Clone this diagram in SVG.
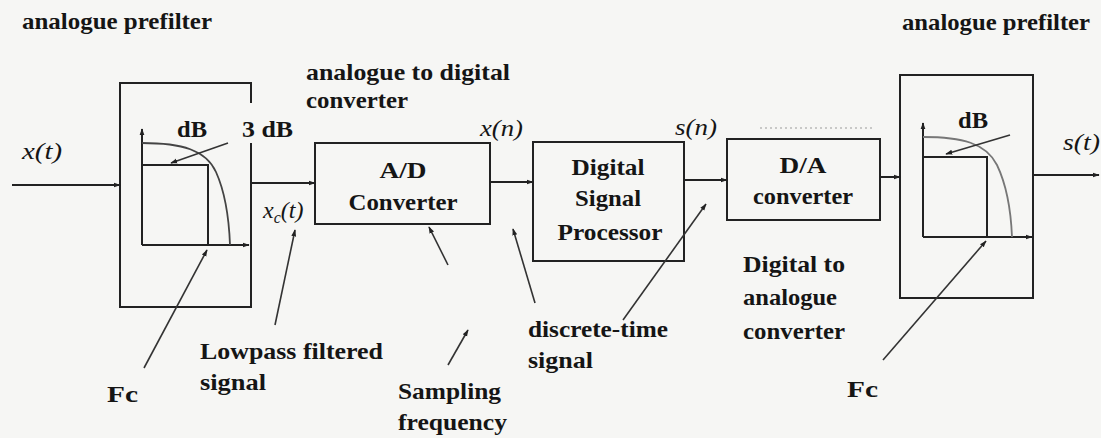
<svg xmlns="http://www.w3.org/2000/svg" width="1101" height="438" viewBox="0 0 1101 438">
  <defs>
    <marker id="ah" viewBox="0 0 10 10" refX="9" refY="5" markerWidth="7" markerHeight="7" orient="auto" markerUnits="userSpaceOnUse">
      <path d="M0,1.5 L10,5 L0,8.5 Z" fill="#222"/>
    </marker>
    <style>
      .ln { stroke: #222; stroke-width: 2; fill: none; }
      .cv { stroke: #444; stroke-width: 1.8; fill: none; }
      .cv2 { stroke: #777; stroke-width: 1.8; fill: none; }
      .arr { stroke: #222; stroke-width: 2; fill: none; marker-end: url(#ah); }
      .ptr { stroke: #333; stroke-width: 1.6; fill: none; marker-end: url(#ah); }
      .t { font-family: "Liberation Serif", serif; font-weight: bold; font-size: 24px; fill: #151515; }
      .it { font-family: "Liberation Serif", serif; font-style: italic; font-size: 24px; fill: #151515; }
      .c { text-anchor: middle; }
    </style>
  </defs>
  <rect width="1101" height="438" fill="#f6f6f4"/>

  <!-- left analogue prefilter -->
  <g id="prefilter-left">
    <path class="ln" d="M251,103 V83 H120 V307 H251 V143"/>
    <path class="arr" d="M142,245 V129"/>
    <path class="arr" d="M142,245 H249"/>
    <path class="ln" d="M142,165 H208 V245"/>
    <path class="cv" d="M142,143 C182,143 206,150 216,172 C225,192 229,218 230,245"/>
    <path class="ptr" d="M228,143 L171,163"/>
    <text class="t" x="177" y="137" textLength="30" lengthAdjust="spacingAndGlyphs">dB</text>
    <text class="t" x="242" y="137" textLength="51" lengthAdjust="spacingAndGlyphs">3 dB</text>
  </g>

  <!-- A/D converter -->
  <g id="ad-converter">
    <rect class="ln" x="315" y="143" width="175" height="81"/>
    <text class="t c" x="403" y="178" textLength="47" lengthAdjust="spacingAndGlyphs">A/D</text>
    <text class="t c" x="403" y="210" textLength="109" lengthAdjust="spacingAndGlyphs">Converter</text>
  </g>

  <!-- Digital Signal Processor -->
  <g id="dsp">
    <rect class="ln" x="533" y="142" width="151" height="119"/>
    <text class="t c" x="608" y="175" textLength="73" lengthAdjust="spacingAndGlyphs">Digital</text>
    <text class="t c" x="608" y="206" textLength="66" lengthAdjust="spacingAndGlyphs">Signal</text>
    <text class="t c" x="610" y="240" textLength="105" lengthAdjust="spacingAndGlyphs">Processor</text>
  </g>

  <!-- D/A converter -->
  <g id="da-converter">
    <rect class="ln" x="727" y="139" width="153" height="81"/>
    <text class="t c" x="803" y="173" textLength="47" lengthAdjust="spacingAndGlyphs">D/A</text>
    <text class="t c" x="803" y="204" textLength="100" lengthAdjust="spacingAndGlyphs">converter</text>
  </g>

  <!-- right analogue prefilter -->
  <g id="prefilter-right">
    <rect class="ln" x="900" y="75" width="133" height="223"/>
    <path class="arr" d="M923,237 V123"/>
    <path class="arr" d="M923,237 H1032"/>
    <path class="ln" d="M923,157 H987 V237"/>
    <path class="cv2" d="M923,137 C962,137 986,143 997,165 C1007,186 1011,212 1012,237"/>
    <path class="ptr" d="M1010,135 L946,154"/>
    <text class="t" x="958" y="128" textLength="30" lengthAdjust="spacingAndGlyphs">dB</text>
  </g>

  <!-- connectors -->
  <g id="connectors">
    <path class="arr" d="M12,185 H120"/>
    <path class="arr" d="M251,183 H315"/>
    <path class="arr" d="M490,182 H533"/>
    <path class="arr" d="M684,180 H727"/>
    <path class="arr" d="M880,177 H900"/>
    <path class="arr" d="M1033,175 H1099"/>
    <path class="ptr" d="M144,368 L207,250"/>
    <path class="ptr" d="M275,325 L295,230"/>
    <path class="ptr" d="M448,265 L429,227"/>
    <path class="ptr" d="M448,365 L468,330"/>
    <path class="ptr" d="M535,303 L513,229"/>
    <path class="ptr" d="M623,320 L706,204"/>
    <path class="ptr" d="M883,360 L986,241"/>
    <path d="M760,128 H873" stroke="#999" stroke-width="1.2" stroke-dasharray="2 3" fill="none"/>
  </g>

  <!-- labels -->
  <g id="labels">
    <text class="t" x="22" y="29" textLength="190" lengthAdjust="spacingAndGlyphs">analogue prefilter</text>
    <text class="t" x="306" y="80" textLength="204" lengthAdjust="spacingAndGlyphs">analogue to digital</text>
    <text class="t" x="306" y="108" textLength="102" lengthAdjust="spacingAndGlyphs">converter</text>
    <text class="t" x="902" y="30" textLength="188" lengthAdjust="spacingAndGlyphs">analogue prefilter</text>
    <text class="it" x="22" y="159" textLength="40" lengthAdjust="spacingAndGlyphs">x(t)</text>
    <text class="it" x="263" y="218">x<tspan dy="5" font-size="16">c</tspan><tspan dy="-5">(t)</tspan></text>
    <text class="it" x="480" y="136" textLength="43" lengthAdjust="spacingAndGlyphs">x(n)</text>
    <text class="it" x="675" y="135" textLength="42" lengthAdjust="spacingAndGlyphs">s(n)</text>
    <text class="it" x="1063" y="150" textLength="37" lengthAdjust="spacingAndGlyphs">s(t)</text>
    <text class="t" x="200" y="359" textLength="183" lengthAdjust="spacingAndGlyphs">Lowpass filtered</text>
    <text class="t" x="200" y="390" textLength="66" lengthAdjust="spacingAndGlyphs">signal</text>
    <text class="t" x="107" y="402" textLength="31" lengthAdjust="spacingAndGlyphs">Fc</text>
    <text class="t" x="398" y="399" textLength="103" lengthAdjust="spacingAndGlyphs">Sampling</text>
    <text class="t" x="398" y="430" textLength="109" lengthAdjust="spacingAndGlyphs">frequency</text>
    <text class="t" x="528" y="337" textLength="140" lengthAdjust="spacingAndGlyphs">discrete-time</text>
    <text class="t" x="528" y="368" textLength="65" lengthAdjust="spacingAndGlyphs">signal</text>
    <text class="t" x="743" y="272" textLength="102" lengthAdjust="spacingAndGlyphs">Digital to</text>
    <text class="t" x="743" y="305" textLength="94" lengthAdjust="spacingAndGlyphs">analogue</text>
    <text class="t" x="743" y="339" textLength="102" lengthAdjust="spacingAndGlyphs">converter</text>
    <text class="t" x="847" y="397" textLength="31" lengthAdjust="spacingAndGlyphs">Fc</text>
  </g>
</svg>
